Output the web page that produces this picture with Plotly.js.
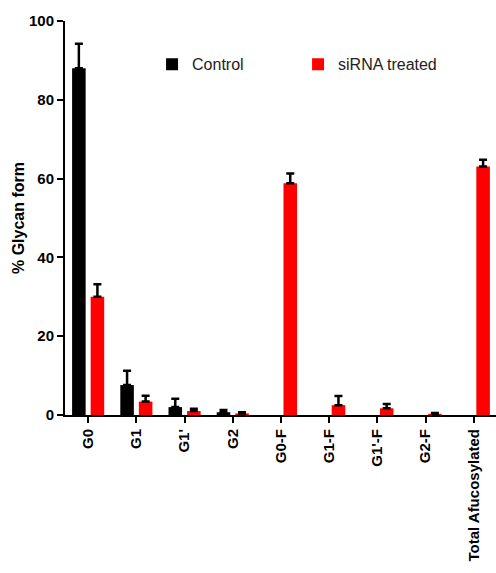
<!DOCTYPE html>
<html>
<head>
<meta charset="utf-8">
<script src="https://cdn.plot.ly/plotly-3.0.1.min.js"></script>
<style>html,body{margin:0;padding:0;background:#fff;}#chart{width:496px;height:573px;}</style>
</head>
<body>
<div id="chart"></div>
<script>
const categories = ["G0", "G1", "G1'", "G2", "G0-F", "G1-F", "G1'-F", "G2-F", "Total Afucosylated"];
const controlValues = [88.0, 7.6, 2.0, 0.7, 0, 0, 0, 0, 0];
const controlErrors = [6.2, 3.6, 2.1, 0.6, 0, 0, 0, 0, 0];
const sirnaValues = [30.0, 3.4, 1.0, 0.4, 58.8, 2.5, 1.7, 0.3, 63.1];
const sirnaErrors = [3.2, 1.5, 0.6, 0.3, 2.5, 2.3, 1.1, 0.2, 1.7];
const yTicks = [0, 20, 40, 60, 80, 100];

// no error bar is drawn where there is no measured spread
const errStyle = (arr) => ({type: 'data', symmetric: false,
  array: arr.map(v => v > 0 ? v : NaN), arrayminus: arr.map(v => v > 0 ? 0 : NaN),
  color: '#000', thickness: 2.5, width: 4});

const traces = [
  {type: 'bar', name: 'Control', x: categories, y: controlValues, marker: {color: '#000000'},
   error_y: errStyle(controlErrors)},
  {type: 'bar', name: 'siRNA treated', x: categories, y: sirnaValues, marker: {color: '#ff0000'},
   error_y: errStyle(sirnaErrors)}
];

const layout = {
  width: 496, height: 573,
  margin: {l: 65, r: 0, t: 21, b: 158},
  paper_bgcolor: '#fff', plot_bgcolor: '#fff',
  barmode: 'group', bargap: 0.23, bargroupgap: 0.27,
  font: {family: 'Liberation Sans, Arial, sans-serif', color: '#000'},
  showlegend: true,
  legend: {orientation: 'h', x: 0.202, y: 0.89, xanchor: 'left', yanchor: 'middle',
    entrywidth: 101, entrywidthmode: 'pixels', itemwidth: 30,
    font: {size: 16, color: '#222', family: 'Liberation Sans, Arial, sans-serif'}, bgcolor: 'rgba(0,0,0,0)'},
  xaxis: {
    type: 'category', range: [-0.48, 8.46],
    showline: true, linecolor: '#000', linewidth: 2,
    ticks: 'outside', ticklen: 6, tickwidth: 2, tickcolor: '#000',
    tickangle: -90, tickfont: {size: 15, family: 'Liberation Sans, Arial, sans-serif', weight: 'bold', color: '#000'},
    showgrid: false, zeroline: false, fixedrange: true
  },
  yaxis: {
    range: [0, 100], tickvals: yTicks, ticktext: yTicks.map(String),
    showline: true, linecolor: '#000', linewidth: 2,
    ticks: 'outside', ticklen: 6, tickwidth: 2, tickcolor: '#000',
    tickfont: {size: 15, family: 'Liberation Sans, Arial, sans-serif', weight: 'bold', color: '#000'},
    showgrid: false, zeroline: false,
    title: {text: '% Glycan form', standoff: 0, font: {size: 16, family: 'Liberation Sans, Arial, sans-serif', weight: 'bold', color: '#000'}}
  }
};

Plotly.newPlot('chart', traces, layout, {displayModeBar: false, staticPlot: true});
</script>
</body>
</html>
